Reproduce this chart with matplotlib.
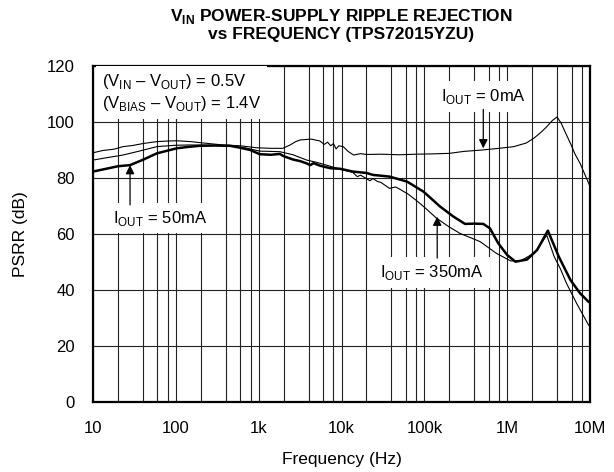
import matplotlib
matplotlib.use('Agg')
import matplotlib.pyplot as plt
from matplotlib.ticker import LogLocator, FixedLocator, FixedFormatter, NullFormatter

# --- DATA ---
FREQ_0MA = [10, 13, 18, 23, 30, 40, 59, 80, 103, 150, 200, 370, 600, 950, 1400, 1960,
            2400, 2800, 3200, 4300, 5500, 6200, 6800, 7400, 8000, 8600, 9300, 10500, 12000,
            14000, 17000, 20000, 30000, 50000, 80000, 120000, 200000, 300000, 500000,
            800000, 1.2e6, 1.7e6, 2.1e6, 2.6e6, 3.0e6, 3.5e6, 4.0e6, 4.5e6, 5.0e6, 5.8e6,
            6.6e6, 7.6e6, 8.6e6, 1e7]
PSRR_0MA = [89.0, 89.8, 90.3, 91.2, 91.6, 92.3, 93.0, 93.2, 93.3, 93.0, 92.6, 91.8, 91.5,
            90.8, 90.6, 90.6, 91.8, 93.0, 93.6, 93.9, 93.2, 92.0, 92.8, 91.5, 92.3, 90.4,
            91.5, 91.2, 89.5, 88.2, 88.7, 88.4, 88.5, 88.3, 88.5, 88.6, 88.8, 89.5, 90.0,
            90.6, 91.2, 92.5, 94.2, 96.5, 98.3, 100.5, 101.8, 99.5, 96.5, 92.4, 88.5, 85.2,
            81.5, 77.0]

FREQ_350MA = [10, 15, 23, 35, 59, 100, 148, 250, 450, 700, 1030, 1400, 1800, 2600, 3800,
              5000, 6600, 8500, 10000, 13700, 15500, 17000, 20000, 22000, 24000, 27000,
              30000, 38000, 45000, 52000, 56000, 62000, 80000, 98000, 141000, 200000,
              270000, 470000, 740000, 1.1e6, 1.45e6, 2.1e6, 2.5e6, 3.0e6, 3.7e6, 4.4e6,
              5.2e6, 6.9e6, 9.6e6, 1e7]
PSRR_350MA = [86.4, 87.3, 88.2, 89.5, 91.2, 91.7, 91.8, 91.7, 91.4, 90.7, 89.6, 89.5, 89.4,
              88.3, 86.4, 85.6, 84.6, 83.6, 83.0, 82.0, 80.5, 81.0, 79.8, 79.0, 79.8, 78.8,
              78.4, 76.3, 76.8, 75.8, 75.2, 74.5, 72.0, 69.8, 65.6, 62.5, 60.2, 57.3, 53.1,
              50.4, 50.4, 53.1, 56.0, 59.6, 51.9, 47.5, 42.4, 35.2, 27.5, 27.0]

FREQ_50MA = [10, 15, 20, 28, 40, 59, 80, 102, 140, 195, 300, 450, 600, 790, 1030, 1400,
             1800, 2000, 2600, 3200, 3800, 4200, 4600, 5500, 7300, 9600, 13700, 20000,
             24000, 38000, 62000, 98000, 155000, 225000, 310000, 400000, 515000, 620000,
             780000, 1.0e6, 1.26e6, 1.74e6, 2.3e6, 3.1e6, 4.2e6, 5.8e6, 7.6e6, 9.6e6, 1e7]
PSRR_50MA = [82.3, 83.4, 84.2, 84.6, 86.5, 88.8, 89.8, 90.6, 91.1, 91.5, 91.6, 91.5, 90.8,
             90.0, 88.5, 88.3, 88.6, 87.8, 86.6, 86.0, 85.2, 84.6, 85.3, 84.4, 83.5, 83.3,
             82.3, 81.8, 81.1, 80.5, 78.7, 75.1, 69.8, 66.2, 63.6, 63.7, 63.6, 62.0, 56.7,
             52.5, 50.1, 50.9, 54.3, 61.2, 51.9, 43.6, 38.8, 35.8, 35.5]

X_TICKS = [10, 100, 1e3, 1e4, 1e5, 1e6, 1e7]
X_LABELS = ['10', '100', '1k', '10k', '100k', '1M', '10M']
Y_TICKS = [0, 20, 40, 60, 80, 100, 120]

# --- STYLE ---
plt.rcParams['font.family'] = ['Liberation Sans', 'DejaVu Sans']
plt.rcParams['mathtext.fontset'] = 'custom'
plt.rcParams['mathtext.rm'] = 'Liberation Sans'
plt.rcParams['mathtext.bf'] = 'Liberation Sans:bold'

fig = plt.figure(figsize=(6.14, 4.72), dpi=100)
ax = fig.add_axes([93 / 614, 1 - 402 / 472, 497 / 614, 336 / 472])

ax.plot(FREQ_0MA, PSRR_0MA, color='black', lw=0.8, zorder=3)
ax.plot(FREQ_350MA, PSRR_350MA, color='black', lw=0.8, zorder=3)
ax.plot(FREQ_50MA, PSRR_50MA, color='black', lw=1.8, zorder=3)

ax.set_xscale('log')
ax.set_xlim(10, 1e7)
ax.set_ylim(0, 120)
ax.xaxis.set_major_locator(FixedLocator(X_TICKS))
ax.xaxis.set_major_formatter(FixedFormatter(X_LABELS))
ax.xaxis.set_minor_locator(LogLocator(base=10, subs=[2, 4, 6, 8], numticks=20))
ax.xaxis.set_minor_formatter(NullFormatter())
ax.set_yticks(Y_TICKS)
ax.tick_params(which='both', length=0, labelsize=12)
ax.tick_params(axis='x', pad=14)
ax.tick_params(axis='y', pad=13)
ax.grid(which='major', color='#222222', lw=0.8, zorder=1)
ax.grid(which='minor', axis='x', color='#222222', lw=0.8, zorder=1)
ax.set_axisbelow(True)
for s in ax.spines.values():
    s.set_linewidth(1.6)

ax.set_xlabel('Frequency (Hz)', fontsize=12.5, labelpad=11)
ax.set_ylabel('PSRR (dB)', fontsize=12.5, labelpad=14)

# title, two lines
tfont = ['Liberation Sans Narrow', 'Liberation Sans']
fig.text(341 / 614, 1 - 16 / 472, r'V$_{\mathbf{IN}}$ POWER-SUPPLY RIPPLE REJECTION',
         ha='center', va='center', fontsize=12.5, fontweight='bold', family=tfont)
fig.text(341 / 614, 1 - 35 / 472, 'vs FREQUENCY (TPS72015YZU)',
         ha='center', va='center', fontsize=12.5, fontweight='bold', family=tfont)

# annotations
box = dict(boxstyle='square,pad=0.35', facecolor='white', edgecolor='none')
ax.text(12.8, 110.5,
        '(V$_{\\mathrm{IN}}$ – V$_{\\mathrm{OUT}}$) = 0.5V\n(V$_{\\mathrm{BIAS}}$ – V$_{\\mathrm{OUT}}$) = 1.4V',
        ha='left', va='center', fontsize=12, linespacing=1.25, bbox=box, zorder=4)
ax.text(515000, 109, r'I$_{\mathrm{OUT}}$ = 0mA', ha='center', va='center',
        fontsize=12, bbox=box, zorder=4)
ax.text(65, 65.7, r'I$_{\mathrm{OUT}}$ = 50mA', ha='center', va='center',
        fontsize=12, bbox=box, zorder=4)
ax.text(124000, 46.2, r'I$_{\mathrm{OUT}}$ = 350mA', ha='center', va='center',
        fontsize=12, bbox=box, zorder=4)

arrow = dict(arrowstyle='-|>', color='black', lw=0.9, mutation_scale=13, shrinkA=0, shrinkB=0)
ax.annotate('', xy=(515000, 90.6), xytext=(515000, 104.5), arrowprops=arrow, zorder=5)
ax.annotate('', xy=(28, 84.6), xytext=(28, 70.4), arrowprops=arrow, zorder=5)
ax.annotate('', xy=(143000, 66.2), xytext=(143000, 51.4), arrowprops=arrow, zorder=5)

fig.savefig('out.png', dpi=100)
